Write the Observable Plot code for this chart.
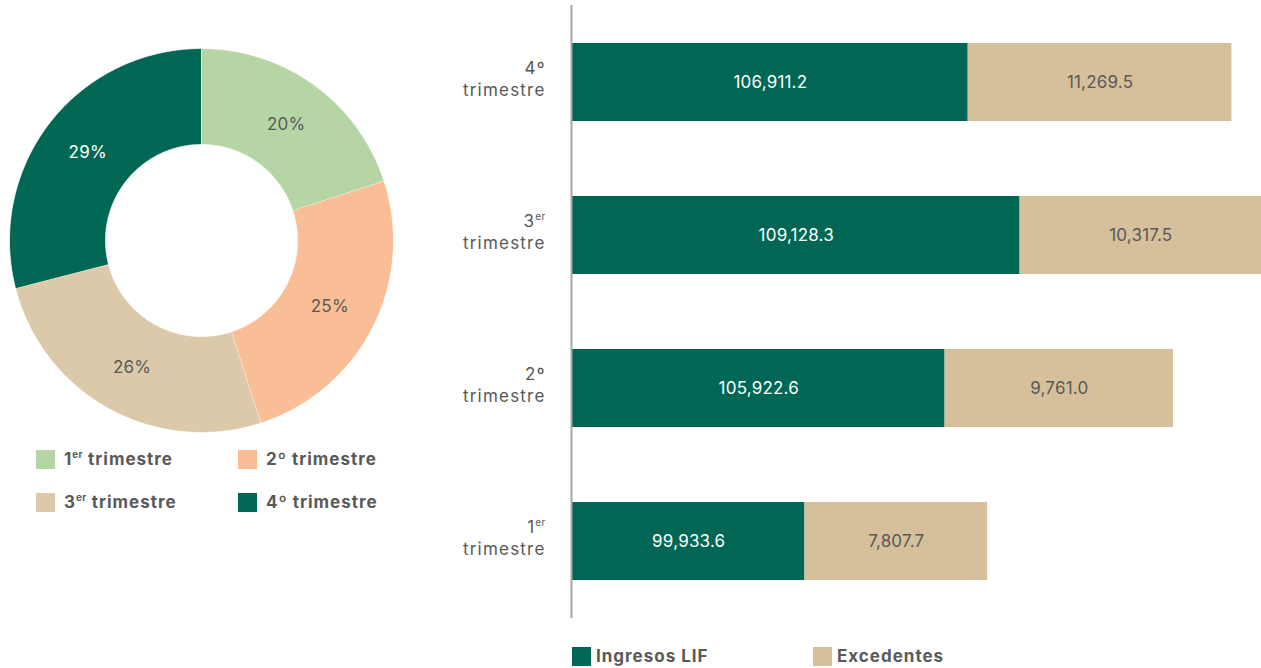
<!DOCTYPE html>
<html><head><meta charset="utf-8">
<script src="https://cdn.jsdelivr.net/npm/d3@7"></script>
<script src="https://cdn.jsdelivr.net/npm/@observablehq/plot@0.6"></script>
<style>
html,body{margin:0;padding:0;background:#fff;}
body{width:1261px;height:668px;overflow:hidden;position:relative;font-family:Inter,"Open Sans",sans-serif;color:#595959;}
#donut{position:absolute;left:0;top:0;}
#bars{position:absolute;left:440px;top:0;}
.leg{position:absolute;display:flex;align-items:center;font-weight:700;font-size:17px;letter-spacing:1px;color:#595959;white-space:nowrap;}
.leg .sw{width:19px;height:19px;margin-right:9px;flex:none;}
.leg sup{font-size:10px;vertical-align:7px;line-height:0;letter-spacing:0.3px;}
svg text{font-family:Inter,"Open Sans",sans-serif;}
.ylab text{letter-spacing:1.2px;}
.vlab text{letter-spacing:0.2px;}
</style></head><body>
<div id="donut"></div>
<div id="bars"></div>
<div id="legends"></div>
<script>
// ---- data ----
const quarters = ["1er trimestre", "2º trimestre", "3er trimestre", "4º trimestre"];
const quarterNum = ["1", "2", "3", "4"];
const quarterSup = ["er", "º", "er", "º"];
const shares = [20, 25, 26, 29];
const seriesNames = ["Ingresos LIF", "Excedentes"];
const ingresosLIF = [99933.6, 105922.6, 109128.3, 106911.2];
const excedentes = [7807.7, 9761.0, 10317.5, 11269.5];
const xStart = 90000;

// ---- styles ----
const donutColors = ["#b5d6a4", "#fabe96", "#dcc9a9", "#006755"];
const barColors = ["#006755", "#d5c09b"];
const gray = "#595959";

// ---- donut ----
const total = d3.sum(shares);
let acc = 0;
const arcs = shares.map((v, i) => {
  const a0 = acc / total * 2 * Math.PI; acc += v;
  const a1 = acc / total * 2 * Math.PI;
  return {q: quarters[i], v, a0, a1, mid: (a0 + a1) / 2, dark: i === 3};
});
const R = 1, r0 = 0.5, rl = 0.75;
const poly = arcs.flatMap(s => {
  const n = Math.max(2, Math.ceil((s.a1 - s.a0) / 0.005));
  const pts = [];
  for (let k = 0; k <= n; k++) { const a = s.a0 + (s.a1 - s.a0) * k / n; pts.push({q: s.q, x: R * Math.sin(a), y: R * Math.cos(a)}); }
  for (let k = n; k >= 0; k--) { const a = s.a0 + (s.a1 - s.a0) * k / n; pts.push({q: s.q, x: r0 * Math.sin(a), y: r0 * Math.cos(a)}); }
  return pts;
});
const donut = Plot.plot({
  width: 402, height: 440,
  marginLeft: 9, marginRight: 9, marginTop: 48, marginBottom: 8,
  x: {domain: [-1, 1], axis: null},
  y: {domain: [-1, 1], axis: null},
  color: {domain: quarters, range: donutColors},
  marks: [
    Plot.line(poly, {x: "x", y: "y", z: "q", fill: "q", stroke: "#ffffff", strokeWidth: 0.8, curve: "linear"}),
    Plot.text(arcs.filter(d => !d.dark), {x: d => rl * Math.sin(d.mid), y: d => rl * Math.cos(d.mid), text: d => d.v + "%", fill: gray, fontSize: 17, dy: 1, className: "vlab"}),
    Plot.text(arcs.filter(d => d.dark), {x: d => rl * Math.sin(d.mid), y: d => rl * Math.cos(d.mid), text: d => d.v + "%", fill: "#ffffff", fontSize: 17, className: "vlab"})
  ]
});
document.getElementById("donut").appendChild(donut);

// ---- bars ----
const fmt = d3.format(",.1f");
const rows = quarters.flatMap((q, i) => [
  {q, serie: seriesNames[0], x1: xStart, x2: ingresosLIF[i], v: ingresosLIF[i]},
  {q, serie: seriesNames[1], x1: ingresosLIF[i], x2: ingresosLIF[i] + excedentes[i], v: excedentes[i]}
]);
const xMax = d3.max(rows, d => d.x2);
const bars = Plot.plot({
  width: 821, height: 625,
  marginLeft: 132, marginRight: 0, marginTop: 5, marginBottom: 7,
  x: {domain: [xStart, xMax], axis: null},
  y: {domain: quarters.slice().reverse(), paddingInner: 0.49, paddingOuter: 0.245, axis: null},
  color: {domain: seriesNames, range: barColors},
  marks: [
    Plot.barX(rows, {y: "q", x1: "x1", x2: "x2", fill: "serie"}),
    Plot.text(rows.filter(d => d.serie === seriesNames[0]), {y: "q", x: d => (d.x1 + d.x2) / 2, text: d => fmt(d.v), fill: "#ffffff", fontSize: 17, className: "vlab"}),
    Plot.text(rows.filter(d => d.serie === seriesNames[1]), {y: "q", x: d => (d.x1 + d.x2) / 2, text: d => fmt(d.v), fill: gray, fontSize: 17, className: "vlab"}),
    Plot.ruleX([xStart], {stroke: "#a6a6a6", strokeWidth: 2, dx: -1}),
    Plot.text(quarters, {y: d => d, frameAnchor: "left", textAnchor: "end", dx: -27, dy: -5,
      text: d => { const i = quarters.indexOf(d); return quarterNum[i] + quarterSup[i] + "\ntrimestre"; },
      fill: gray, fontSize: 17, lineHeight: 1.3, className: "ylab"})
  ]
});
document.getElementById("bars").appendChild(bars);
// superscripts in y labels
d3.select(bars).selectAll(".ylab tspan").each(function() {
  const t = this.textContent;
  const m = t.match(/^(\d)(er|º)$/);
  if (m && m[2] === "er") {
    this.textContent = m[1];
    const s = document.createElementNS("http://www.w3.org/2000/svg", "tspan");
    s.setAttribute("font-size", "10");
    s.setAttribute("baseline-shift", "7");
    s.setAttribute("letter-spacing", "0.3");
    s.textContent = m[2];
    this.appendChild(s);
  }
});

// ---- legends ----
const legDiv = document.getElementById("legends");
const donutLegPos = [[36, 449], [238, 449], [36, 492], [238, 492]];
quarters.forEach((q, i) => {
  const el = document.createElement("div");
  el.className = "leg";
  el.style.left = donutLegPos[i][0] + "px";
  el.style.top = donutLegPos[i][1] + "px";
  const sup = quarterSup[i] === "er" ? "<sup>er</sup>" : "º";
  el.innerHTML = `<span class="sw" style="background:${donutColors[i]}"></span><span>${quarterNum[i]}${sup} trimestre</span>`;
  legDiv.appendChild(el);
});
const barLegPos = [[572, 646], [813, 646]];
seriesNames.forEach((s, i) => {
  const el = document.createElement("div");
  el.className = "leg";
  el.style.left = barLegPos[i][0] + "px";
  el.style.top = barLegPos[i][1] + "px";
  el.innerHTML = `<span class="sw" style="background:${barColors[i]};margin-right:5px"></span><span>${s}</span>`;
  legDiv.appendChild(el);
});
</script>
</body></html>
